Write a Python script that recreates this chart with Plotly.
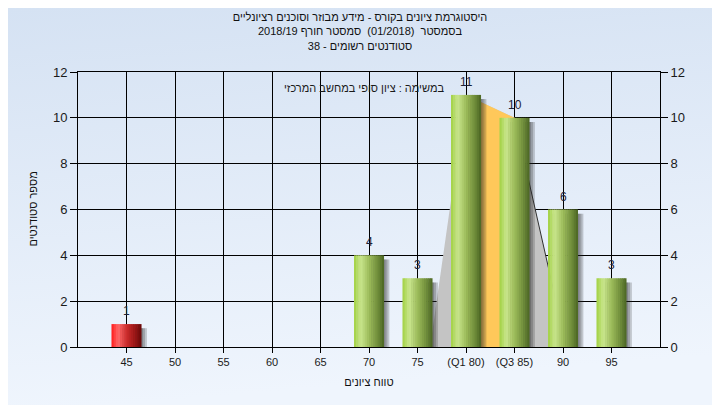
import base64
import plotly.graph_objects as go

# ---------------- data ----------------
categories = ["45", "50", "55", "60", "65", "70", "75", "(Q1 80)", "(Q3 85)", "90", "95"]
counts = [1, 0, 0, 0, 0, 4, 3, 11, 10, 6, 3]
bar_kind = ["fail", "pass", "pass", "pass", "pass", "pass", "pass", "pass", "pass", "pass", "pass"]

# distribution outline (category index, students)
curve_x = [6.26, 7, 8, 9.07]
curve_y = [0, 11, 10, 0]
# inter-quartile band (category index, students)
iqr_x = [7, 7, 8, 8]
iqr_y = [0, 11, 10, 0]

title_lines = [
    "היסטוגרמת ציונים בקורס - מידע מבוזר וסוכנים רציונליים",
    "בסמסטר  (01/2018)  סמסטר חורף 2018/19",
    "סטודנטים רשומים - 38",
]
note_text = "במשימה : ציון סופי במחשב המרכזי"
x_title = "טווח ציונים"
y_title = "מספר סטודנטים"
y_ticks = [0, 2, 4, 6, 8, 10, 12]

# ---------------- style ----------------
FONT = "Liberation Sans, Arial, sans-serif"
BAR_W = 0.62
N_STRIPS = 14
green_stops = [(0.0, (160, 208, 64)), (0.22, (202, 230, 142)), (0.5, (156, 188, 90)),
               (0.8, (110, 140, 58)), (1.0, (74, 100, 34))]
red_stops = [(0.0, (255, 25, 25)), (0.22, (255, 105, 105)), (0.5, (205, 45, 45)),
             (0.8, (150, 20, 20)), (1.0, (100, 5, 5))]

# page body has an 8px margin: size the figure so the plot lands where the reference has it
OFF = 8
W, H = 720 - OFF, 405 - OFF
ML, MR, MT, MB = 78 - OFF, 60, 72 - OFF, 58
PW, PH = W - ML - MR, H - MT - MB


def interp(stops, t):
    for (t0, c0), (t1, c1) in zip(stops[:-1], stops[1:]):
        if t0 <= t <= t1:
            f = (t - t0) / (t1 - t0) if t1 > t0 else 0
            c = [round(a + (b - a) * f) for a, b in zip(c0, c1)]
            return "rgb(%d,%d,%d)" % tuple(c)
    return "rgb(%d,%d,%d)" % stops[-1][1]


fig = go.Figure()

# shadows
for d in (0.03, 0.07, 0.11):
    fig.add_trace(go.Bar(
        x=categories, y=[max(v - 0.18, 0) for v in counts],
        width=BAR_W, offset=-BAR_W / 2 + d,
        marker=dict(color="rgba(35,35,35,0.22)", line=dict(width=0)),
        hoverinfo="skip", showlegend=False))

# gradient strips
sw = BAR_W / N_STRIPS
for k in range(N_STRIPS):
    t = (k + 0.5) / N_STRIPS
    cols = [interp(red_stops if kind == "fail" else green_stops, t) for kind in bar_kind]
    w = sw * 1.25 if k < N_STRIPS - 1 else sw
    fig.add_trace(go.Bar(
        x=categories, y=counts, width=w, offset=-BAR_W / 2 + k * sw,
        marker=dict(color=cols, line=dict(width=0)),
        hoverinfo="skip", showlegend=False))

# anchor trace for the right axis
fig.add_trace(go.Scatter(x=[categories[0]], y=[0], yaxis="y2", mode="markers",
                         marker=dict(opacity=0), hoverinfo="skip", showlegend=False))


def poly(xs, ys):
    return "M " + " L ".join("%g,%g" % (a, b) for a, b in zip(xs, ys)) + " Z"


shapes = [
    dict(type="path", path=poly(curve_x, curve_y), xref="x", yref="y",
         fillcolor="#c4c4c4", line=dict(width=0), layer="between"),
    dict(type="path", path=poly(iqr_x, iqr_y), xref="x", yref="y",
         fillcolor="#ffc85a", line=dict(width=0), layer="between"),
    dict(type="line", x0=curve_x[2], y0=curve_y[2], x1=curve_x[3], y1=curve_y[3],
         xref="x", yref="y", line=dict(color="#303030", width=1), layer="between"),
]

svg = ('<svg xmlns="http://www.w3.org/2000/svg" width="720" height="405">'
       '<defs><linearGradient id="g" x1="0" y1="0" x2="0.15" y2="1">'
       '<stop offset="0" stop-color="#d5e2f3"/><stop offset="1" stop-color="#eff5fd"/>'
       '</linearGradient></defs><rect width="720" height="405" fill="url(#g)"/></svg>')
bg_src = "data:image/svg+xml;base64," + base64.b64encode(svg.encode()).decode()

# value labels above bars (category axis: position by serial index)
annotations = [
    dict(x=i, y=v, text=str(v), xref="x", yref="y", showarrow=False,
         yanchor="bottom", yshift=4,
         font=dict(family=FONT, size=12, color="#1c2236"))
    for i, v in enumerate(counts) if v > 0
]
annotations.append(dict(text=note_text, xref="paper", yref="paper",
                        x=(446 - OFF - ML) / PW, y=(MT + PH - (88 - OFF)) / PH,
                        xanchor="right", yanchor="middle", showarrow=False,
                        font=dict(family=FONT, size=11, color="#1a1a1a")))
annotations.append(dict(text=y_title, xref="paper", yref="paper",
                        x=(32 - OFF - ML) / PW, y=0.5, textangle=-90,
                        xanchor="center", yanchor="middle", showarrow=False,
                        font=dict(family=FONT, size=11, color="#111111")))

axis_common = dict(range=[0, 12], tickvals=y_ticks, ticks="outside", ticklen=7,
                   tickcolor="black", tickfont=dict(family=FONT, size=13, color="#1a1a1a"),
                   zeroline=False, automargin=False)

fig.update_layout(
    width=W, height=H,
    margin=dict(l=ML, r=MR, t=MT, b=MB),
    barmode="overlay",
    paper_bgcolor="#e4edf8",
    plot_bgcolor="#b4b4b4",
    showlegend=False,
    title=dict(text="<br>".join(title_lines), x=(360 - OFF) / W, xanchor="center",
               y=1 - 13 / H, yanchor="top",
               font=dict(family=FONT, size=11, color="#111111")),
    xaxis=dict(type="category", categoryorder="array", categoryarray=categories,
               range=[-1, 11], showgrid=True, gridcolor="black", gridwidth=1,
               showline=True, linecolor="black", mirror=True, automargin=False,
               ticks="outside", ticklen=5, tickcolor="black",
               tickfont=dict(family=FONT, size=11, color="#1a1a1a"),
               title=dict(text=x_title, font=dict(family=FONT, size=11, color="#111111"),
                          standoff=11)),
    yaxis=dict(**axis_common, showgrid=True, gridcolor="black", gridwidth=1,
               showline=True, linecolor="black", mirror=True),
    yaxis2=dict(**axis_common, overlaying="y", side="right", showgrid=False,
                showline=True, linecolor="black"),
    shapes=shapes,
    images=[dict(source=bg_src, xref="paper", yref="paper",
                 x=-ML / PW, y=1 + MT / PH, sizex=W / PW, sizey=H / PH,
                 xanchor="left", yanchor="top", sizing="stretch", layer="below")],
    annotations=annotations,
)

fig.write_html("out.html")
